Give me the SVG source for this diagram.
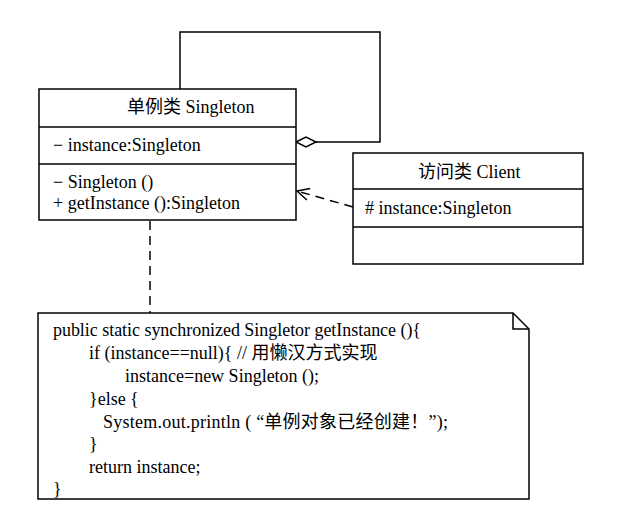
<svg xmlns="http://www.w3.org/2000/svg" width="623" height="507" viewBox="0 0 623 507">
<defs>
<style>
.box{fill:#fff;stroke:#000;stroke-width:1.5}
.ln{fill:none;stroke:#000;stroke-width:1.5}
.dash{fill:none;stroke:#000;stroke-width:1.5;stroke-dasharray:9,6}
.t{font-family:"Liberation Serif","Noto Sans CJK SC",serif;font-size:18px;fill:#000}
</style>
<marker id="open" markerWidth="14" markerHeight="14" refX="13" refY="7" orient="auto" markerUnits="userSpaceOnUse">
<path d="M1,1 L13,7 L1,13" fill="none" stroke="#000" stroke-width="1.5"/>
</marker>
</defs>
<rect width="623" height="507" fill="#fff"/>
<g id="connectors">
<path class="ln" d="M180,89 V32 H380 V142 H316"/>
<polygon points="296,142 306,137 316,142 306,147" fill="#fff" stroke="#000" stroke-width="1.5"/>
<path class="dash" d="M353,207 L297,191" marker-end="url(#open)"/>
<path class="dash" d="M150,221 V313"/>
</g>
<g id="singleton">
<rect class="box" x="39" y="89" width="257" height="131"/>
<line class="ln" x1="39" y1="127" x2="296" y2="127"/>
<line class="ln" x1="39" y1="164" x2="296" y2="164"/>
<text class="t" x="127" y="113">单例类 Singleton</text>
<text class="t" x="53" y="151">− instance:Singleton</text>
<text class="t" x="53" y="188">− Singleton ()</text>
<text class="t" x="53" y="209">+ getInstance ():Singleton</text>
</g>
<g id="client">
<rect class="box" x="353" y="153" width="230" height="111"/>
<line class="ln" x1="353" y1="189" x2="583" y2="189"/>
<line class="ln" x1="353" y1="227" x2="583" y2="227"/>
<text class="t" x="418" y="178">访问类 Client</text>
<text class="t" x="365" y="214"># instance:Singleton</text>
</g>
<g id="note">
<path class="box" d="M38,313 H513 L529,329 V499 H38 Z"/>
<path class="ln" d="M513,313 V329 H529"/>
<text class="t" x="53" y="336" textLength="368" lengthAdjust="spacing">public static synchronized Singletor getInstance (){</text>
<text class="t" x="89" y="359">if (instance==null){ // 用懒汉方式实现</text>
<text class="t" x="125" y="382">instance=new Singleton ();</text>
<text class="t" x="89" y="405">}else {</text>
<text class="t" x="103" y="428" textLength="345" lengthAdjust="spacing">System.out.println ( “单例对象已经创建！”);</text>
<text class="t" x="89" y="450">}</text>
<text class="t" x="89" y="473">return instance;</text>
<text class="t" x="53" y="495">}</text>
</g>
</svg>
